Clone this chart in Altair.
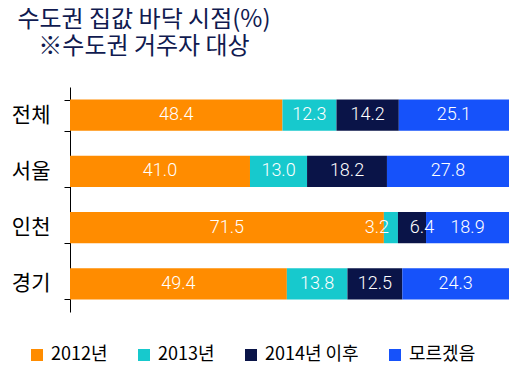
import altair as alt
import pandas as pd

regions = ["전체", "서울", "인천", "경기"]
series = ["2012년", "2013년", "2014년 이후", "모르겠음"]
colors = ["#FF8C00", "#17C9CD", "#0A1448", "#1652FA"]
values = {
    "전체": [48.4, 12.3, 14.2, 25.1],
    "서울": [41.0, 13.0, 18.2, 27.8],
    "인천": [71.5, 3.2, 6.4, 18.9],
    "경기": [49.4, 13.8, 12.5, 24.3],
}
title_lines = ["수도권 집값 바닥 시점(%)", "※수도권 거주자 대상"]

rows = []
for r in regions:
    for i, s in enumerate(series):
        v = values[r][i]
        rows.append({"region": r, "series": s, "order": i, "value": v, "label": f"{v:.1f}"})
df = pd.DataFrame(rows)

W, H = 439, 225
FONT = "Noto Sans CJK KR"
PI = 0.445
PO = PI / 2

yscale = alt.Scale(paddingInner=PI, paddingOuter=PO)

base = alt.Chart(df).transform_stack(
    stack="value", groupby=["region"], as_=["start", "end"],
    sort=[alt.SortField("order", order="ascending")]
).transform_calculate(mid="(datum.start + datum.end) / 2")

bars = base.mark_bar().encode(
    y=alt.Y("region:N", sort=regions, scale=yscale,
            axis=alt.Axis(title=None, ticks=True, tickBand="extent", tickSize=6,
                          tickColor="black", tickWidth=1,
                          domain=True, domainColor="black",
                          domainWidth=1, labelFontSize=21, labelFont=FONT,
                          labelColor="black", labelPadding=14, grid=False)),
    x=alt.X("start:Q", scale=alt.Scale(domain=[0, 100]), axis=None),
    x2="end:Q",
    color=alt.Color("series:N", scale=alt.Scale(domain=series, range=colors),
                    legend=alt.Legend(title=None, orient="none", direction="horizontal",
                                      legendX=-42, legendY=259, symbolType="square",
                                      symbolSize=144, symbolStrokeWidth=0,
                                      labelFontSize=18, labelFont=FONT, labelColor="black",
                                      columnPadding=27, labelOffset=5)),
)

txt_kw = dict(color="white", fontSize=18, font="Roboto", fontWeight=300)
is_small = "(datum.region == '인천' && (datum.order == 1 || datum.order == 2))"

texts = base.transform_filter("!" + is_small).mark_text(**txt_kw).encode(
    y=alt.Y("region:N", sort=regions), x="mid:Q", text="label:N")
text_a = base.transform_filter("datum.region == '인천' && datum.order == 1").mark_text(
    dx=-14, **txt_kw).encode(y=alt.Y("region:N", sort=regions), x="mid:Q", text="label:N")
text_b = base.transform_filter("datum.region == '인천' && datum.order == 2").mark_text(
    dx=10, **txt_kw).encode(y=alt.Y("region:N", sort=regions), x="mid:Q", text="label:N")

chart = alt.layer(bars, texts, text_a, text_b).properties(
    width=W, height=H,
    autosize=alt.AutoSizeParams(type="none"),
    padding={"left": 62, "top": 79, "right": 10, "bottom": 70},
    title=alt.TitleParams(text=title_lines, anchor="start", align="center", dx=74,
                          offset=17, fontSize=24, font=FONT, fontWeight="normal",
                          color="#101A50", lineHeight=27, frame="group"),
).configure_view(stroke=None)

chart.save("out.html", embed_options={"renderer": "svg", "actions": False})
